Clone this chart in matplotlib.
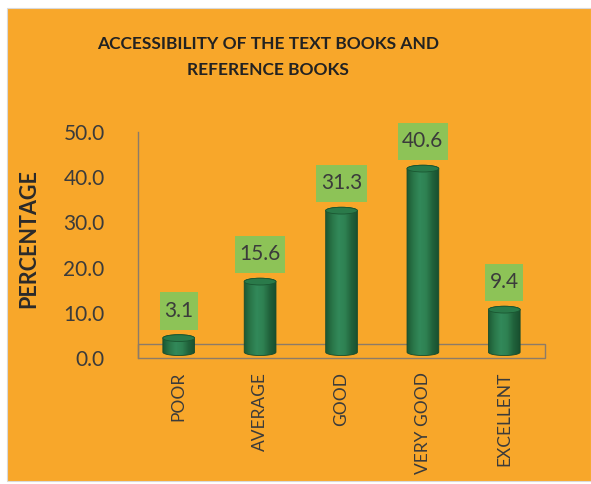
import numpy as np
import matplotlib
matplotlib.use('Agg')
import matplotlib.pyplot as plt
from matplotlib.patches import Rectangle, Ellipse, PathPatch
from matplotlib.path import Path
from matplotlib.colors import LinearSegmentedColormap

categories = ['POOR', 'AVERAGE', 'GOOD', 'VERY GOOD', 'EXCELLENT']
values = [3.1, 15.6, 31.3, 40.6, 9.4]
y_ticks = [0.0, 10.0, 20.0, 30.0, 40.0, 50.0]
title = 'ACCESSIBILITY OF THE TEXT BOOKS AND\nREFERENCE BOOKS'
y_label = 'PERCENTAGE'

ORANGE = '#F8A72A'
LABEL_GREEN = '#8DC357'
TEXT = '#3B3B3B'
EDGE = '#8C7B68'

plt.rcParams['font.family'] = ['Lato', 'DejaVu Sans']


def tall_box(x0, y0, width, height, mutation_size):
    # label box: narrow side padding, tall top/bottom padding (Excel style)
    padx = 0.22 * mutation_size
    pady = 0.42 * mutation_size
    xa, xb = x0 - padx, x0 + width + padx
    ya, yb = y0 - pady, y0 + height + pady
    return Path([(xa, ya), (xb, ya), (xb, yb), (xa, yb), (xa, ya)],
                [Path.MOVETO, Path.LINETO, Path.LINETO, Path.LINETO, Path.CLOSEPOLY])


fig = plt.figure(figsize=(5.91, 4.84), dpi=100, facecolor='white')
# orange chart area with a thin white border like the scan
fig.patches.append(Rectangle((7 / 591, 3 / 484), 584 / 591, 473 / 484,
                             transform=fig.transFigure, facecolor=ORANGE,
                             edgecolor='#D9D9D9', linewidth=0.8, zorder=-10))

ax = fig.add_axes([138 / 591, 1 - 358 / 484, 407 / 591, 226 / 484])
ax.set_facecolor('none')
ax.set_xlim(-0.5, len(categories) - 0.5)
ax.set_ylim(0, 50)

for s in ['top', 'right', 'bottom']:
    ax.spines[s].set_visible(False)
ax.spines['left'].set_color(EDGE)
ax.spines['left'].set_linewidth(1.0)

# thin 3D floor plate
floor_h = 3.2
ax.add_patch(Rectangle((-0.5, 0), len(categories), floor_h, facecolor='none',
                       edgecolor=EDGE, linewidth=1.0, zorder=1, clip_on=False))

cyl_cmap = LinearSegmentedColormap.from_list(
    'cyl', ['#1C5934', '#2A7749', '#32895A', '#2E8152', '#21633C', '#18502F'])

base = 1.3
bar_w = 0.39
cap_h = 1.5
theta = np.linspace(0, np.pi, 40)
for i, v in enumerate(values):
    x0, x1 = i - bar_w / 2, i + bar_w / 2
    top = base + v
    # cylinder silhouette: lower half of bottom ellipse, sides, upper half of top ellipse
    bx = i + (bar_w / 2) * np.cos(np.pi + theta)
    by = base + (cap_h / 2) * np.sin(np.pi + theta)
    tx = i + (bar_w / 2) * np.cos(theta)
    ty = top + (cap_h / 2) * np.sin(theta)
    verts = np.vstack([np.column_stack([bx, by]), np.column_stack([tx, ty]),
                       [[bx[0], by[0]]]])
    codes = [Path.MOVETO] + [Path.LINETO] * (len(verts) - 2) + [Path.CLOSEPOLY]
    outline = PathPatch(Path(verts, codes), facecolor='none', edgecolor='#164A2A',
                        linewidth=0.6, zorder=4)
    ax.add_patch(outline)
    img = ax.imshow(np.linspace(0, 1, 64).reshape(1, -1), cmap=cyl_cmap,
                    extent=[x0, x1, base - cap_h, top + cap_h], aspect='auto',
                    zorder=3, interpolation='bilinear')
    img.set_clip_path(outline)
    ax.add_patch(Ellipse((i, top), bar_w, cap_h, facecolor='#2A7A4A',
                         edgecolor='#1A5631', linewidth=0.6, zorder=5))
    ax.annotate(f'{v:.1f}', xy=(i, top + cap_h / 2), xytext=(0, 10),
                textcoords='offset points', ha='center', va='bottom',
                fontsize=15, color=TEXT, zorder=6,
                bbox=dict(boxstyle=tall_box, facecolor=LABEL_GREEN,
                          edgecolor='none'))

ax.set_yticks(y_ticks)
ax.set_yticklabels([f'{t:.1f}' for t in y_ticks], fontsize=15, color=TEXT)
ax.set_xticks(range(len(categories)))
ax.set_xticklabels(categories, rotation=90, fontsize=12.5, color=TEXT)
ax.tick_params(axis='y', length=0, pad=24)
ax.tick_params(axis='x', length=0, pad=10)

ax.set_ylabel(y_label, fontsize=15.5, fontweight='bold', color='#2A2A2A')
ax.yaxis.set_label_coords(-99 / 407, 0.527)

fig.text(268 / 591, 1 - 57 / 484, title, ha='center', va='center', fontsize=12.5,
         fontweight='bold', color='#222222', linespacing=1.75)

fig.savefig('out.png', dpi=100, facecolor=fig.get_facecolor())
